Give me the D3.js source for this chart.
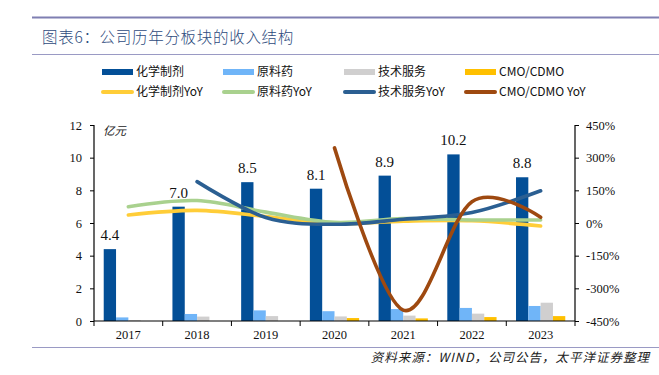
<!DOCTYPE html>
<html><head><meta charset="utf-8">
<script src="https://cdn.jsdelivr.net/npm/d3@7"></script>
<style>
body{margin:0;background:#fff;}
svg{display:block;}
</style></head>
<body><svg id="c" width="659" height="375"></svg>
<script>
const years = ['2017','2018','2019','2020','2021','2022','2023'];
const chem = [4.4, 7.0, 8.5, 8.1, 8.9, 10.2, 8.8];
const api = [0.22, 0.43, 0.65, 0.60, 0.73, 0.80, 0.92];
const tech = [0.05, 0.27, 0.30, 0.28, 0.33, 0.45, 1.12];
const cmo = [0, 0, 0, 0.18, 0.16, 0.24, 0.30];
const chemYoY = [37, 58, 30, -3, 8, 10, -14];
const apiYoY = [75, 103, 50, 3, 20, 14, 14];
const techYoY = [null, 190, 25, -6, 17, 48, 148];
const cmoYoY = [null, null, null, 345, -400, 98, 26];
const leftTicks = [0, 2, 4, 6, 8, 10, 12];
const rightTicks = [-450, -300, -150, 0, 150, 300, 450];
const barNames = ['化学制剂', '原料药', '技术服务', 'CMO/CDMO'];
const lineNames = ['化学制剂YoY', '原料药YoY', '技术服务YoY', 'CMO/CDMO YoY'];
const barColors = ['#034f97', '#70b5f8', '#d0cfcf', '#ffc000'];
const lineColors = ['#ffcd38', '#a9d18e', '#2b5f92', '#9e4910'];

const svg = d3.select('#c');
const L = 94, R = 575, T = 125, B = 321;
const serif = '"Liberation Serif", "Times New Roman", serif';
const cjk = '"Noto Sans CJK SC", "Noto Sans", sans-serif';

// header rules & title
svg.append('line').attr('x1', 32).attr('x2', 659).attr('y1', 17.5).attr('y2', 17.5)
  .attr('stroke', '#7f7fb2').attr('stroke-width', 2);
svg.append('line').attr('x1', 32).attr('x2', 659).attr('y1', 54.5).attr('y2', 54.5)
  .attr('stroke', '#9a9ac4').attr('stroke-width', 1);
svg.append('text').attr('x', 42).attr('y', 43)
  .attr('font-family', cjk).attr('font-size', 15.5).attr('font-weight', 300).attr('fill', '#2d4a7c')
  .attr('letter-spacing', 0.7)
  .text('图表6：公司历年分板块的收入结构');

// footer
svg.append('line').attr('x1', 32).attr('x2', 659).attr('y1', 347.5).attr('y2', 347.5)
  .attr('stroke', '#9a9ac4').attr('stroke-width', 1);
svg.append('text').attr('x', 650).attr('y', 362).attr('text-anchor', 'end')
  .attr('font-family', cjk).attr('font-size', 12.5).attr('font-style', 'italic')
  .attr('letter-spacing', 1)
  .attr('fill', '#222')
  .text('资料来源：WIND，公司公告，太平洋证券整理');

// scales
const x = d3.scaleBand().domain(years).range([L, R]).paddingInner(0).paddingOuter(0);
const xs = d3.scaleBand().domain(d3.range(4)).range([0, x.bandwidth()]).paddingInner(0).paddingOuter(0.79);
const y = d3.scaleLinear().domain([0, 12]).range([B, T]);
const y2 = d3.scaleLinear().domain([-450, 450]).range([B, T]);

// bars
const series = [chem, api, tech, cmo];
series.forEach((vals, si) => {
  svg.append('g').selectAll('rect').data(years).join('rect')
    .attr('x', d => x(d) + xs(si))
    .attr('y', (d, i) => y(vals[i]))
    .attr('width', xs.bandwidth())
    .attr('height', (d, i) => B - y(vals[i]))
    .attr('fill', barColors[si]);
});
// data labels
svg.append('g').selectAll('text').data(years).join('text')
  .attr('x', d => x(d) + xs(0) + xs.bandwidth() / 2)
  .attr('y', (d, i) => y(chem[i]) - 9)
  .attr('text-anchor', 'middle')
  .attr('font-family', serif).attr('font-size', 15).attr('fill', '#111')
  .text((d, i) => chem[i].toFixed(1));

// lines
const yoys = [chemYoY, apiYoY, techYoY, cmoYoY];
yoys.forEach((vals, si) => {
  const pts = years.map((d, i) => [x(d) + x.bandwidth() / 2, vals[i]]).filter(p => p[1] !== null);
  const line = d3.line().x(p => p[0]).y(p => y2(p[1])).curve(d3.curveCardinal.tension(0));
  svg.append('path').attr('d', line(pts)).attr('fill', 'none')
    .attr('stroke', lineColors[si]).attr('stroke-width', 3.6)
    .attr('stroke-linecap', 'round').attr('stroke-linejoin', 'round');
});

// axes
const axL = svg.append('g').attr('transform', `translate(${L},0)`)
  .call(d3.axisLeft(y).tickValues(leftTicks).tickSize(4).tickPadding(8).tickFormat(d3.format('d')));
const axR = svg.append('g').attr('transform', `translate(${R},0)`)
  .call(d3.axisRight(y2).tickValues(rightTicks).tickSize(4).tickPadding(7).tickFormat(d => d + '%'));
const xb = d3.scaleLinear().domain([0, 7]).range([L, R]);
const axB = svg.append('g').attr('transform', `translate(0,${B})`)
  .call(d3.axisBottom(x).tickSize(0).tickPadding(9));
axB.append('g').selectAll('line').data(d3.range(8)).join('line')
  .attr('x1', d => xb(d)).attr('x2', d => xb(d)).attr('y1', 0).attr('y2', 5)
  .attr('stroke', '#000');
[axL, axR, axB].forEach(a => {
  a.selectAll('path.domain').attr('stroke', '#000').attr('stroke-width', 1.2);
  a.selectAll('.tick line').attr('stroke', '#000');
  a.selectAll('text').attr('font-family', serif).attr('font-size', 12.5).attr('fill', '#111');
});
axL.select('path.domain').attr('d', `M0,${B}V${T}`);
axR.select('path.domain').attr('d', `M0,${B}V${T}`);
axB.select('path.domain').attr('d', `M${L},0H${R}`);

svg.append('text').attr('x', 103).attr('y', 135)
  .attr('font-family', cjk).attr('font-size', 11.5).attr('font-style', 'italic').attr('fill', '#222')
  .text('亿元');

// legend
const colX = [102, 223, 344, 465];
const rowY = [72, 92];
barNames.forEach((n, i) => {
  svg.append('rect').attr('x', colX[i]).attr('y', rowY[0] - 3).attr('width', 31).attr('height', 6)
    .attr('fill', barColors[i]);
  svg.append('text').attr('x', colX[i] + 34).attr('y', rowY[0]).attr('dy', '0.36em')
    .attr('font-family', cjk).attr('font-size', 12).attr('fill', '#111').text(n);
});
lineNames.forEach((n, i) => {
  svg.append('line').attr('x1', colX[i] + 1).attr('x2', colX[i] + 30)
    .attr('y1', rowY[1]).attr('y2', rowY[1])
    .attr('stroke', lineColors[i]).attr('stroke-width', 4).attr('stroke-linecap', 'round');
  svg.append('text').attr('x', colX[i] + 34).attr('y', rowY[1]).attr('dy', '0.36em')
    .attr('font-family', cjk).attr('font-size', 12).attr('fill', '#111').text(n);
});
</script></body></html>
